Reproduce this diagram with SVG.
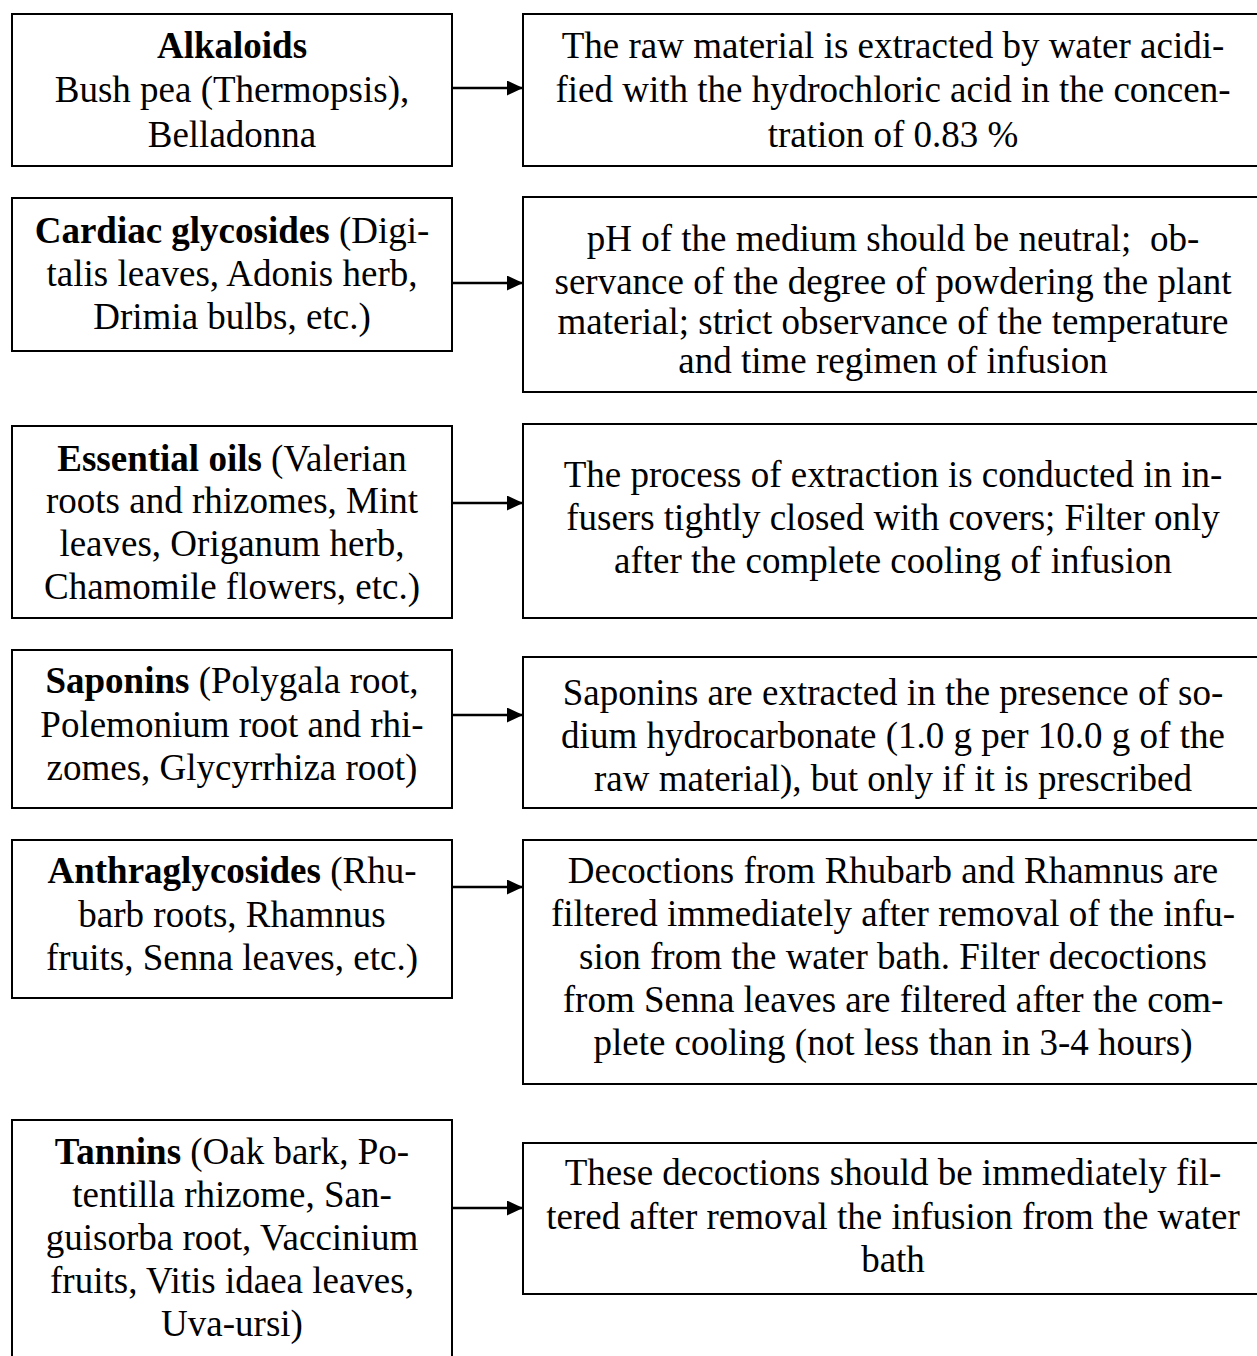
<svg xmlns="http://www.w3.org/2000/svg" width="1257" height="1356" viewBox="0 0 1257 1356">
<defs>
<style>
.box{fill:#fff;stroke:#000;stroke-width:2}
.t{font-family:"Liberation Serif","Times New Roman",serif;font-size:37px;fill:#000;text-anchor:middle}
.b{font-weight:bold}
.c{stroke:#000;stroke-width:2.5;fill:none}
</style>
<marker id="ah" markerUnits="userSpaceOnUse" markerWidth="17" markerHeight="15" refX="16" refY="7.5" orient="auto">
<path d="M0,0 L16,7.5 L0,15 z" fill="#000"/>
</marker>
</defs>
<rect width="1257" height="1356" fill="#fff"/>
<g id="connectors">
<line class="c" x1="452" y1="88" x2="523" y2="88" marker-end="url(#ah)"/>
<line class="c" x1="452" y1="283" x2="523" y2="283" marker-end="url(#ah)"/>
<line class="c" x1="452" y1="503" x2="523" y2="503" marker-end="url(#ah)"/>
<line class="c" x1="452" y1="715" x2="523" y2="715" marker-end="url(#ah)"/>
<line class="c" x1="452" y1="887" x2="523" y2="887" marker-end="url(#ah)"/>
<line class="c" x1="452" y1="1208" x2="523" y2="1208" marker-end="url(#ah)"/>
</g>
<g id="alkaloids">
<rect class="box" x="12" y="14" width="440" height="152"/>
<text class="t" x="232" y="58"><tspan class="b">Alkaloids</tspan></text>
<text class="t" x="232" y="102">Bush pea (Thermopsis),</text>
<text class="t" x="232" y="147">Belladonna</text>
</g>
<g id="alkaloids-note">
<rect class="box" x="523" y="14" width="740" height="152"/>
<text class="t" x="893" y="58">The raw material is extracted by water acidi-</text>
<text class="t" x="893" y="102">fied with the hydrochloric acid in the concen-</text>
<text class="t" x="893" y="147">tration of 0.83 %</text>
</g>
<g id="cardiac">
<rect class="box" x="12" y="198" width="440" height="153"/>
<text class="t" x="232" y="243"><tspan class="b">Cardiac glycosides</tspan> (Digi-</text>
<text class="t" x="232" y="286">talis leaves, Adonis herb,</text>
<text class="t" x="232" y="329">Drimia bulbs, etc.)</text>
</g>
<g id="cardiac-note">
<rect class="box" x="523" y="197" width="740" height="195"/>
<text class="t" x="893" y="251" xml:space="preserve">pH of the medium should be neutral;  ob-</text>
<text class="t" x="893" y="294">servance of the degree of powdering the plant</text>
<text class="t" x="893" y="334">material; strict observance of the temperature</text>
<text class="t" x="893" y="373">and time regimen of infusion</text>
</g>
<g id="essential">
<rect class="box" x="12" y="426" width="440" height="192"/>
<text class="t" x="232" y="471"><tspan class="b">Essential oils</tspan> (Valerian</text>
<text class="t" x="232" y="513">roots and rhizomes, Mint</text>
<text class="t" x="232" y="556">leaves, Origanum herb,</text>
<text class="t" x="232" y="599">Chamomile flowers, etc.)</text>
</g>
<g id="essential-note">
<rect class="box" x="523" y="424" width="740" height="194"/>
<text class="t" x="893" y="487">The process of extraction is conducted in in-</text>
<text class="t" x="893" y="530">fusers tightly closed with covers; Filter only</text>
<text class="t" x="893" y="573">after the complete cooling of infusion</text>
</g>
<g id="saponins">
<rect class="box" x="12" y="650" width="440" height="158"/>
<text class="t" x="232" y="693"><tspan class="b">Saponins</tspan> (Polygala root,</text>
<text class="t" x="232" y="737">Polemonium root and rhi-</text>
<text class="t" x="232" y="780">zomes, Glycyrrhiza root)</text>
</g>
<g id="saponins-note">
<rect class="box" x="523" y="657" width="740" height="151"/>
<text class="t" x="893" y="705">Saponins are extracted in the presence of so-</text>
<text class="t" x="893" y="748">dium hydrocarbonate (1.0 g per 10.0 g of the</text>
<text class="t" x="893" y="791">raw material), but only if it is prescribed</text>
</g>
<g id="anthraglycosides">
<rect class="box" x="12" y="840" width="440" height="158"/>
<text class="t" x="232" y="883"><tspan class="b">Anthraglycosides</tspan> (Rhu-</text>
<text class="t" x="232" y="927">barb roots, Rhamnus</text>
<text class="t" x="232" y="970">fruits, Senna leaves, etc.)</text>
</g>
<g id="anthraglycosides-note">
<rect class="box" x="523" y="840" width="740" height="244"/>
<text class="t" x="893" y="883">Decoctions from Rhubarb and Rhamnus are</text>
<text class="t" x="893" y="926">filtered immediately after removal of the infu-</text>
<text class="t" x="893" y="969">sion from the water bath. Filter decoctions</text>
<text class="t" x="893" y="1012">from Senna leaves are filtered after the com-</text>
<text class="t" x="893" y="1055">plete cooling (not less than in 3-4 hours)</text>
</g>
<g id="tannins">
<rect class="box" x="12" y="1120" width="440" height="250"/>
<text class="t" x="232" y="1164"><tspan class="b">Tannins</tspan> (Oak bark, Po-</text>
<text class="t" x="232" y="1207">tentilla rhizome, San-</text>
<text class="t" x="232" y="1250">guisorba root, Vaccinium</text>
<text class="t" x="232" y="1293">fruits, Vitis idaea leaves,</text>
<text class="t" x="232" y="1336">Uva-ursi)</text>
</g>
<g id="tannins-note">
<rect class="box" x="523" y="1143" width="740" height="151"/>
<text class="t" x="893" y="1185">These decoctions should be immediately fil-</text>
<text class="t" x="893" y="1229">tered after removal the infusion from the water</text>
<text class="t" x="893" y="1272">bath</text>
</g>
</svg>
